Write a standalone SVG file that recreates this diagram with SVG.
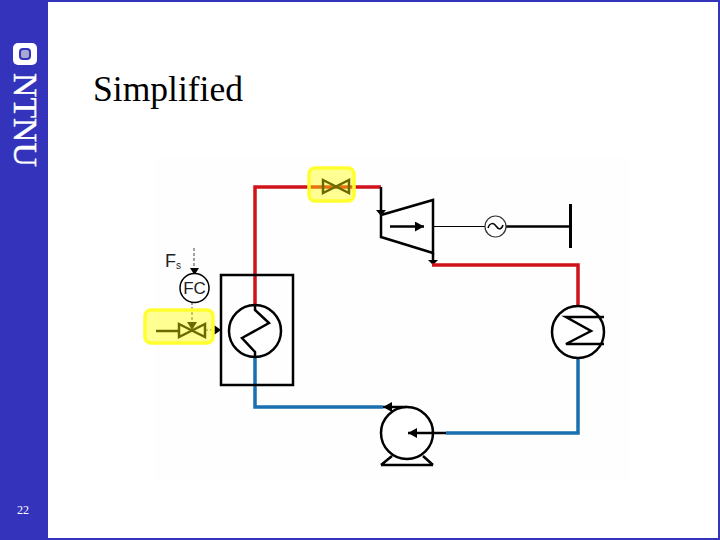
<svg xmlns="http://www.w3.org/2000/svg" width="720" height="540" viewBox="0 0 720 540">
<defs>
<marker id="ah" markerUnits="userSpaceOnUse" markerWidth="12" markerHeight="12" refX="9" refY="5" orient="auto"><path d="M0 0L9 5L0 10Z" fill="#000"/></marker>
</defs>
<style>
.k{fill:none;stroke:#000;stroke-width:2.5}
.th{fill:none;stroke:#000;stroke-width:1.2}
.c{fill:#fff;stroke:#000;stroke-width:2.5}
.red{fill:none;stroke:#d0121a;stroke-width:3.5}
.blue{fill:none;stroke:#1a6fb0;stroke-width:3.5}
.dash{fill:none;stroke:#444;stroke-width:1;stroke-dasharray:3 2}
.hl{fill:#ffff00;fill-opacity:.42;stroke:#ffff30;stroke-width:3.5}
.sans{font-family:"Liberation Sans",Arial,sans-serif;fill:#222}
.serif{font-family:"Liberation Serif","Times New Roman",serif}
</style>
<rect width="720" height="540" fill="#fff"/>
<rect x="155" y="156" width="475" height="325" fill="#fefefe"/>
<path d="M0 1H719V539H0" fill="none" stroke="#3333bb" stroke-width="2"/>
<g id="sidebar">
<rect width="48" height="540" fill="#3333bb"/>
<rect x="13" y="43" width="24" height="22" rx="5" fill="#fff"/>
<rect x="20" y="49" width="10" height="10" rx="3" fill="#a8a8d0" stroke="#3333bb" stroke-width="2"/>
<text class="serif" transform="translate(14,73) rotate(90)" font-size="33" fill="#fff" stroke="#fff" stroke-width=".4" textLength="94" lengthAdjust="spacingAndGlyphs">NTNU</text>
<text class="serif" x="17" y="514" font-size="12" fill="#fff">22</text>
</g>
<text id="title" class="serif" x="93" y="101" font-size="36" fill="#000" textLength="150" lengthAdjust="spacingAndGlyphs">Simplified</text>
<g id="connectors">
<path class="red" d="M255 307V187H381"/>
<path class="k" d="M381 187V212"/>
<path d="M376 210H386L381 216Z" fill="#000"/>
<path class="k" d="M433 253V262"/>
<path d="M428 260H438L433 265Z" fill="#000"/>
<path class="red" d="M432 265H578V306"/>
<path class="blue" d="M578 357V433H446"/>
<path class="blue" d="M255 356V407H383"/>
<path class="k" d="M407 407H383" marker-end="url(#ah)"/>
<path class="th" d="M433 226.500H485"/>
<path class="k" d="M506 226.500H570" stroke-width="2"/>
<path class="dash" d="M194 248V270"/>
<path d="M190 268H199L194.500 275Z" fill="#000"/>
<path class="dash" d="M192 302V326"/>
<path class="dash" d="M205 330H214"/>
<path d="M214 325V335L221 330Z" fill="#000"/>
<path class="k" d="M156 331H179"/>
</g>
<g id="boiler">
<rect class="k" x="221" y="275" width="72" height="110"/>
<circle class="c" cx="255" cy="331" r="26"/>
<path class="k" d="M255 305V310L269 323L242 338L255 352V357"/>
</g>
<g id="turbine">
<path class="k" d="M381 215L433 200V253L381 237Z"/>
<path class="k" d="M390 226.500H424" marker-end="url(#ah)"/>
</g>
<g id="generator">
<circle cx="495.500" cy="226.500" r="10.500" fill="#fff" stroke="#333" stroke-width="1.200"/>
<path d="M488 228C490 222 494 223 496 226S501 231 503 225" fill="none" stroke="#000" stroke-width="1.500"/>
</g>
<g id="busbar"><path d="M570.500 204V248" stroke="#000" stroke-width="3" fill="none"/></g>
<g id="condenser">
<circle class="c" cx="578" cy="332" r="26"/>
<path class="k" d="M604 317H566L591 331L566 344H604" stroke-width="2"/>
</g>
<g id="pump">
<path class="k" d="M381 465L392 456M433 465L423 456M381 465H433" stroke-width="2"/>
<circle class="c" cx="407" cy="433" r="26"/>
<path class="k" d="M446 433H408" marker-end="url(#ah)"/>
</g>
<g id="valve-top">
<path class="k" d="M323 180L349 193V180L323 193Z"/>
</g>
<g id="valve-fuel">
<path class="k" d="M179 324L205 337V324L179 337Z"/>
<path d="M187 322H197L192 330Z" fill="#000"/>
</g>
<g id="fc">
<circle cx="194.500" cy="288" r="14.500" fill="#fff" stroke="#000" stroke-width="1.500"/>
<text class="sans" x="194.500" y="293.500" font-size="17" text-anchor="middle">FC</text>
</g>
<g id="fs">
<text class="sans" x="165" y="267" font-size="18">F<tspan font-size="10" dy="2">s</tspan></text>
</g>
<g id="highlights">
<rect class="hl" x="309" y="168" width="45" height="33" rx="6"/>
<rect class="hl" x="145" y="310" width="68" height="33" rx="6"/>
</g>
</svg>
